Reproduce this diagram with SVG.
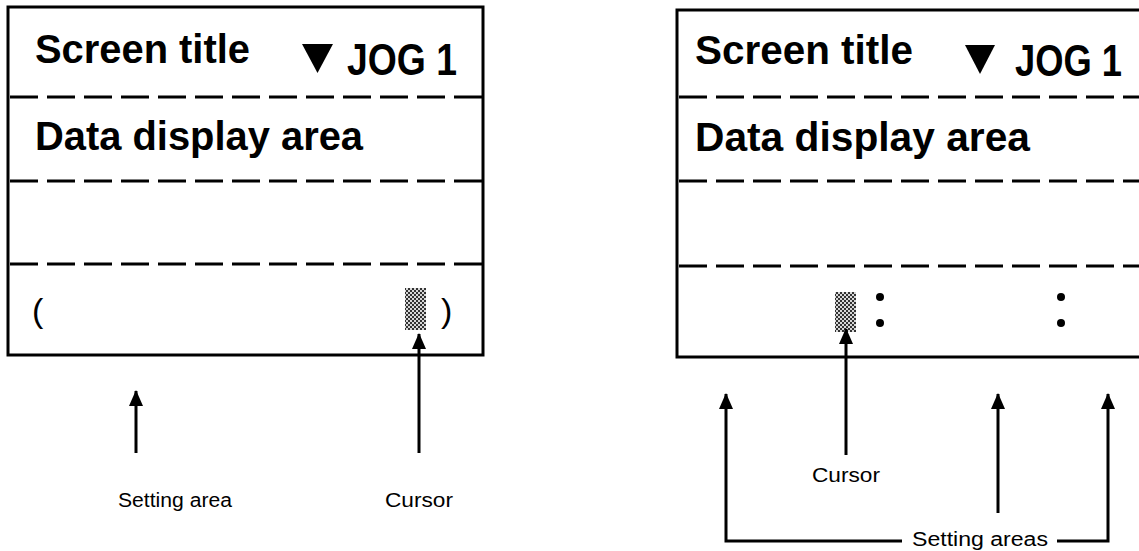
<svg xmlns="http://www.w3.org/2000/svg" width="1139" height="551" viewBox="0 0 1139 551">
<style>
.box{fill:none;stroke:#000;stroke-width:3}
.dash{fill:none;stroke:#000;stroke-width:3;stroke-dasharray:28 9}
.big{font-family:"Liberation Sans",Arial,sans-serif;font-weight:bold;font-size:40px;fill:#000}
.jog{font-family:"Liberation Sans",Arial,sans-serif;font-weight:bold;font-size:44px;fill:#000}
.lbl{font-family:"Liberation Sans",Arial,sans-serif;font-size:20px;fill:#000}
.paren{font-family:"Liberation Sans",Arial,sans-serif;font-size:34px;fill:#000}
.conn{fill:none;stroke:#000;stroke-width:3}
.cur{fill:url(#stip)}
</style>
<defs>
<pattern id="stip" width="4" height="4" patternUnits="userSpaceOnUse">
<rect width="4" height="4" fill="#d8d8d8"/>
<rect x="0" y="0" width="2" height="2" fill="#333"/>
<rect x="2" y="2" width="2" height="2" fill="#333"/>
</pattern>
<marker id="ah" markerUnits="userSpaceOnUse" viewBox="0 0 16 14" refX="15" refY="7" markerWidth="16" markerHeight="14" orient="auto">
<path d="M0,0 L16,7 L0,14 Z" fill="#000"/>
</marker>
</defs>
<g id="screen-left">
<rect class="box" x="8" y="7" width="475" height="348"/>
<line class="dash" x1="10" y1="97" x2="482" y2="97"/>
<line class="dash" x1="10" y1="181" x2="482" y2="181"/>
<line class="dash" x1="10" y1="264" x2="482" y2="264"/>
<text class="big" x="35" y="63" textLength="215" lengthAdjust="spacingAndGlyphs">Screen title</text>
<path d="M302,44 L333,44 L317.5,73 Z" fill="#000"/>
<text class="jog" x="347" y="75" textLength="110" lengthAdjust="spacingAndGlyphs">JOG 1</text>
<text class="big" x="35" y="150" textLength="328" lengthAdjust="spacingAndGlyphs">Data display area</text>
<text class="paren" x="32" y="322">(</text>
<rect class="cur" x="405" y="288" width="21" height="42"/>
<text class="paren" x="441" y="322">)</text>
</g>
<g id="screen-right">
<rect class="box" x="677" y="10" width="480" height="347"/>
<line class="dash" x1="679" y1="97" x2="1139" y2="97"/>
<line class="dash" x1="679" y1="181" x2="1139" y2="181"/>
<line class="dash" x1="679" y1="266" x2="1139" y2="266"/>
<text class="big" x="695" y="64" textLength="218" lengthAdjust="spacingAndGlyphs">Screen title</text>
<path d="M965,45 L995,45 L980,74 Z" fill="#000"/>
<text class="jog" x="1015" y="76" textLength="107" lengthAdjust="spacingAndGlyphs">JOG 1</text>
<text class="big" x="695" y="151" textLength="335" lengthAdjust="spacingAndGlyphs">Data display area</text>
<rect class="cur" x="835" y="292" width="21" height="40"/>
<circle cx="880" cy="297" r="4"/>
<circle cx="880" cy="323" r="4"/>
<circle cx="1061" cy="297" r="4"/>
<circle cx="1061" cy="323" r="4"/>
</g>
<g id="labels">
<text class="lbl" x="118" y="507" textLength="114" lengthAdjust="spacingAndGlyphs">Setting area</text>
<text class="lbl" x="385" y="507" textLength="68" lengthAdjust="spacingAndGlyphs">Cursor</text>
<text class="lbl" x="812" y="482" textLength="68" lengthAdjust="spacingAndGlyphs">Cursor</text>
<text class="lbl" x="912" y="546" textLength="136" lengthAdjust="spacingAndGlyphs">Setting areas</text>
</g>
<g id="connectors">
<line class="conn" x1="136" y1="453" x2="136" y2="391" marker-end="url(#ah)"/>
<line class="conn" x1="419" y1="453" x2="419" y2="334" marker-end="url(#ah)"/>
<line class="conn" x1="846" y1="455" x2="846" y2="329" marker-end="url(#ah)"/>
<polyline class="conn" points="902,541 726,541 726,394" marker-end="url(#ah)"/>
<line class="conn" x1="998" y1="513" x2="998" y2="394" marker-end="url(#ah)"/>
<polyline class="conn" points="1057,541 1108,541 1108,394" marker-end="url(#ah)"/>
</g>
</svg>
